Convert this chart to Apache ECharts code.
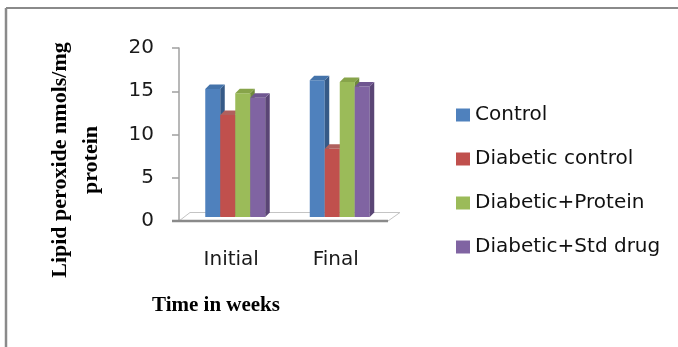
<!DOCTYPE html>
<html>
<head>
<meta charset="utf-8">
<script src="https://cdn.jsdelivr.net/npm/echarts@6/dist/echarts.min.js"></script>
<style>
  html, body { margin: 0; padding: 0; background: #fff; }
  #chart { width: 678px; height: 347px; }
</style>
</head>
<body>
<div id="chart"></div>
<script>
// Lipid peroxide (nmols/mg protein) at the start and end of the study
const categories = ['Initial', 'Final'];
const seriesNames = ['Control', 'Diabetic control', 'Diabetic+Protein', 'Diabetic+Std drug'];
const control = [14.8, 15.8];
const diabeticControl = [11.8, 7.9];
const diabeticProtein = [14.3, 15.6];
const diabeticStdDrug = [13.8, 15.1];
const yMin = 0, yMax = 20, yStep = 5;

// face / side / top colours for each column series
const palette = [
  { face: '#4F81BD', side: '#365A87', top: '#4473AA' },
  { face: '#C0504D', side: '#8A3633', top: '#B0605D' },
  { face: '#9BBB59', side: '#6F8A3C', top: '#87A44A' },
  { face: '#8064A2', side: '#5A4575', top: '#6F5690' }
];
const valuesBySeries = [control, diabeticControl, diabeticProtein, diabeticStdDrug];

const SHIFT = 4;   // columns sit slightly behind the front plane
const DEPTH = 4.5; // extrusion of each column

function columnRenderer(idx) {
  const col = palette[idx];
  return function (params, api) {
    const c = api.value(0), v = api.value(1);
    const base = api.coord([c, 0]);
    const tip = api.coord([c, v]);
    const band = api.size([1, 0])[0];
    const w = band * 0.1435;
    const x0 = base[0] - 2 * w + idx * w + SHIFT;
    const x1 = x0 + w;
    const yb = base[1] - SHIFT;
    const yt = tip[1] - SHIFT;
    return {
      type: 'group',
      children: [
        { type: 'rect', shape: { x: x0, y: yt, width: w, height: yb - yt },
          style: { fill: col.face } },
        { type: 'polygon', shape: { points: [[x1, yt], [x1 + DEPTH, yt - DEPTH], [x1 + DEPTH, yb - DEPTH], [x1, yb]] },
          style: { fill: col.side } },
        { type: 'polygon', shape: { points: [[x0, yt], [x0 + DEPTH, yt - DEPTH], [x1 + DEPTH, yt - DEPTH], [x1, yt]] },
          style: { fill: col.top } }
      ]
    };
  };
}

function floorRenderer(params, api) {
  const band = api.size([1, 0])[0];
  const left = api.coord([0, 0])[0] - band / 2;
  const right = api.coord([categories.length - 1, 0])[0] + band / 2;
  const y0 = api.coord([0, 0])[1];
  return {
    type: 'group',
    children: [
      { type: 'polygon', shape: { points: [[left, y0], [left + 11, y0 - 8.5], [right + 12, y0 - 8.5], [right, y0]] },
        style: { fill: '#fff', stroke: '#c4c4c4', lineWidth: 1 } },
      { type: 'line', shape: { x1: left - 7, y1: y0, x2: right, y2: y0 },
        style: { stroke: '#8a8a8a', lineWidth: 2.5 } }
    ]
  };
}

const series = [{
  type: 'custom',
  name: 'floor',
  renderItem: floorRenderer,
  data: [[0, 0]],
  encode: { x: 0, y: 1 },
  silent: true,
  z: 1
}];
seriesNames.forEach(function (name, i) {
  series.push({
    type: 'custom',
    name: name,
    renderItem: columnRenderer(i),
    itemStyle: { color: palette[i].face },
    data: valuesBySeries[i].map(function (v, c) { return [c, v]; }),
    encode: { x: 0, y: 1 },
    z: 2
  });
});

const chart = echarts.init(document.getElementById('chart'), null, { renderer: 'canvas' });
chart.setOption({
  animation: false,
  backgroundColor: '#fff',
  grid: { left: 179, top: 48, width: 209, height: 173, containLabel: false },
  xAxis: {
    type: 'category',
    data: categories,
    axisLine: { show: false },
    axisTick: { show: false },
    axisLabel: { color: '#1a1a1a', fontFamily: 'DejaVu Sans', fontSize: 20, margin: 29 }
  },
  yAxis: {
    type: 'value',
    min: yMin, max: yMax, interval: yStep,
    splitLine: { show: false },
    axisLine: { show: true, lineStyle: { color: '#a0a0a0', width: 1.5 } },
    axisTick: { show: true, length: 7, lineStyle: { color: '#a0a0a0', width: 1.5 } },
    axisLabel: { color: '#1a1a1a', fontFamily: 'DejaVu Sans', fontSize: 20, margin: 25 }
  },
  legend: {
    data: seriesNames,
    orient: 'vertical',
    left: 451,
    top: 100,
    icon: 'rect',
    itemWidth: 14,
    itemHeight: 13,
    itemGap: 24,
    textStyle: { color: '#111', fontFamily: 'DejaVu Sans', fontSize: 20, lineHeight: 13 }
  },
  series: series,
  graphic: [
    { type: 'line', shape: { x1: 6, y1: 8, x2: 678, y2: 8 }, style: { stroke: '#8a8a8a', lineWidth: 2 } },
    { type: 'line', shape: { x1: 6, y1: 8, x2: 6, y2: 347 }, style: { stroke: '#8a8a8a', lineWidth: 2.5 } },
    {
      type: 'text', x: 76, y: 160, rotation: Math.PI / 2,
      style: {
        text: 'Lipid peroxide nmols/mg\nprotein',
        font: 'bold 22px "Liberation Serif"',
        fill: '#000', align: 'center', verticalAlign: 'middle', lineHeight: 31
      }
    },
    {
      type: 'text', x: 216, y: 306,
      style: {
        text: 'Time in weeks',
        font: 'bold 21px "Liberation Serif"',
        fill: '#000', align: 'center', verticalAlign: 'middle'
      }
    }
  ]
});
</script>
</body>
</html>
